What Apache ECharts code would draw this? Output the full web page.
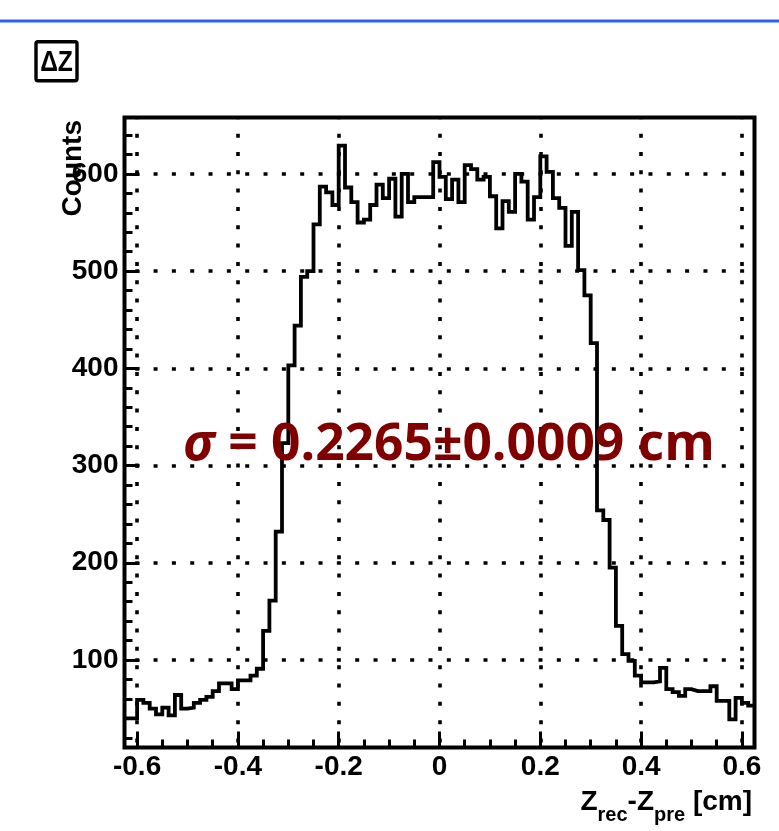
<!DOCTYPE html>
<html><head><meta charset="utf-8">
<script src="https://cdn.jsdelivr.net/npm/echarts@6/dist/echarts.min.js"></script>
<style>html,body{margin:0;padding:0;background:#fff}#c{width:779px;height:831px}</style>
</head><body><div id="c"></div>
<script>
// ---- data ----
const X_MIN = -0.625, X_MAX = 0.625;
const Y_MIN = 10, Y_MAX = 658;
const counts = [
  40, 40, 59, 56, 50, 44, 51, 43, 64, 50,
  51, 56, 59, 62, 68, 76, 76, 70, 79, 79,
  84, 91, 130, 161, 232, 323, 403, 444, 494, 500,
  548, 587, 581, 568, 629, 586, 571, 550, 553, 568,
  589, 575, 595, 556, 600, 571, 576, 576, 576, 612,
  597, 574, 594, 571, 609, 605, 594, 597, 577, 544,
  572, 561, 600, 592, 553, 576, 618, 602, 575, 565,
  526, 561, 501, 475, 426, 254, 244, 195, 135, 106,
  99, 84, 77, 77, 78, 92, 70, 67, 63, 70,
  68, 68, 68, 73, 58, 58, 39, 61, 56, 53
];
const xTickValues = [-0.6, -0.4, -0.2, 0, 0.2, 0.4, 0.6];
const xTickLabels = ['-0.6', '-0.4', '-0.2', '0', '0.2', '0.4', '0.6'];
const xMinorValues = [-0.6, -0.55, -0.5, -0.45, -0.4, -0.35, -0.3, -0.25, -0.2, -0.15, -0.1, -0.05, 0,
  0.05, 0.1, 0.15, 0.2, 0.25, 0.3, 0.35, 0.4, 0.45, 0.5, 0.55, 0.6];
const yTickValues = [100, 200, 300, 400, 500, 600];
const yTickLabels = ['100', '200', '300', '400', '500', '600'];
const yMinorValues = [20, 40, 60, 80, 120, 140, 160, 180, 220, 240, 260, 280, 320, 340, 360, 380,
  420, 440, 460, 480, 520, 540, 560, 580, 620, 640];
const titleText = 'ΔZ';
const yTitle = 'Counts';
const fitText = 'σ = 0.2265±0.0009 cm';

// ---- build histogram step points from bin edges ----
const binW = (X_MAX - X_MIN) / counts.length;
const pts = counts.map((c, i) => [X_MIN + i * binW, c]);
pts.push([X_MAX, counts[counts.length - 1]]);

const FONT = 'Liberation Sans, Arial, sans-serif';
const labelFmt = (vals, labs) => (v) => {
  const i = vals.findIndex(t => Math.abs(t - v) < 1e-6);
  return i >= 0 ? labs[i] : '';
};
const dotted = { type: [4, 14.33], width: 3.6, color: '#000' };

const chart = echarts.init(document.getElementById('c'), null, { renderer: 'canvas' });
chart.setOption({
  animation: false,
  backgroundColor: '#fff',
  grid: { left: 124.5, top: 117.5, width: 630, height: 630, show: true,
          borderColor: '#000', borderWidth: 4, backgroundColor: 'transparent', containLabel: false },
  xAxis: [
    { type: 'value', min: X_MIN, max: X_MAX, position: 'bottom',
      axisLine: { show: false, onZero: false },
      axisTick: { show: true, inside: true, length: 16, customValues: xTickValues,
                  lineStyle: { color: '#000', width: 3 } },
      axisLabel: { show: true, customValues: xTickValues, formatter: labelFmt(xTickValues, xTickLabels),
                   fontFamily: FONT, fontWeight: 'bold', fontSize: 28, color: '#000', margin: 6 },
      splitLine: { show: true, lineStyle: Object.assign({ dashOffset: 2.2 }, dotted) } },
    { type: 'value', min: X_MIN, max: X_MAX, position: 'bottom',
      axisLine: { show: false, onZero: false },
      axisTick: { show: true, inside: true, length: 8, customValues: xMinorValues,
                  lineStyle: { color: '#000', width: 3 } },
      axisLabel: { show: false }, splitLine: { show: false } }
  ],
  yAxis: [
    { type: 'value', min: Y_MIN, max: Y_MAX, position: 'left',
      axisLine: { show: false, onZero: false },
      axisTick: { show: true, inside: true, length: 15, customValues: yTickValues,
                  lineStyle: { color: '#000', width: 3 } },
      axisLabel: { show: true, customValues: yTickValues, formatter: labelFmt(yTickValues, yTickLabels),
                   fontFamily: FONT, fontWeight: 'bold', fontSize: 28, color: '#000', margin: 6 },
      splitLine: { show: true, lineStyle: Object.assign({ dashOffset: 7.6 }, dotted) } },
    { type: 'value', min: Y_MIN, max: Y_MAX, position: 'left',
      axisLine: { show: false, onZero: false },
      axisTick: { show: true, inside: true, length: 8, customValues: yMinorValues,
                  lineStyle: { color: '#000', width: 3 } },
      axisLabel: { show: false }, splitLine: { show: false } }
  ],
  series: [{
    type: 'line', xAxisIndex: 0, yAxisIndex: 0, data: pts, step: 'end',
    showSymbol: false, symbol: 'none', clip: true,
    lineStyle: { color: '#000', width: 3.8, join: 'miter' }, z: 5
  }],
  graphic: [
    { type: 'rect', left: 0, top: 19.5, shape: { width: 779, height: 3 }, style: { fill: '#2f5ef8' } },
    { type: 'rect', shape: { x: 36, y: 41.7, width: 41, height: 39, r: 2 },
      style: { fill: '#fff', stroke: '#000', lineWidth: 3.4 } },
    { type: 'text', x: 56.5, y: 62.5, scaleX: 0.82, scaleY: 1,
      style: { text: titleText, align: 'center', verticalAlign: 'middle',
               font: 'bold 30px "Liberation Sans", Arial, sans-serif', fill: '#000' } },
    { type: 'text', x: 73.5, y: 120, rotation: Math.PI / 2,
      style: { text: yTitle, align: 'right', verticalAlign: 'middle',
               font: 'bold 28px "Liberation Sans", Arial, sans-serif', fill: '#000' }, z: 10 },
    { type: 'text', x: 752, y: 788,
      style: { text: '{b|Z}{s|rec}{b|-Z}{s|pre}{b| [cm]}', align: 'right', verticalAlign: 'top',
               rich: { b: { fontFamily: FONT, fontWeight: 'bold', fontSize: 28, lineHeight: 34, verticalAlign: 'top', fill: '#000' },
                       s: { fontFamily: FONT, fontWeight: 'bold', fontSize: 20, lineHeight: 20, padding: [17, 0, 0, 0], verticalAlign: 'top', fill: '#000' } } } },
    { type: 'text', x: 183, y: 445, z: 20,
      style: { text: '{i|' + fitText.charAt(0) + '}{n|' + fitText.slice(1) + '}', align: 'left', verticalAlign: 'middle',
               rich: { i: { fontFamily: 'Open Sans, sans-serif', fontStyle: 'italic', fontWeight: 'bold', fontSize: 51.5, fill: '#800000' },
                       n: { fontFamily: 'Open Sans, sans-serif', fontWeight: 'bold', fontSize: 51.5, fill: '#800000' } } } }
  ]
});
</script>
</body></html>
